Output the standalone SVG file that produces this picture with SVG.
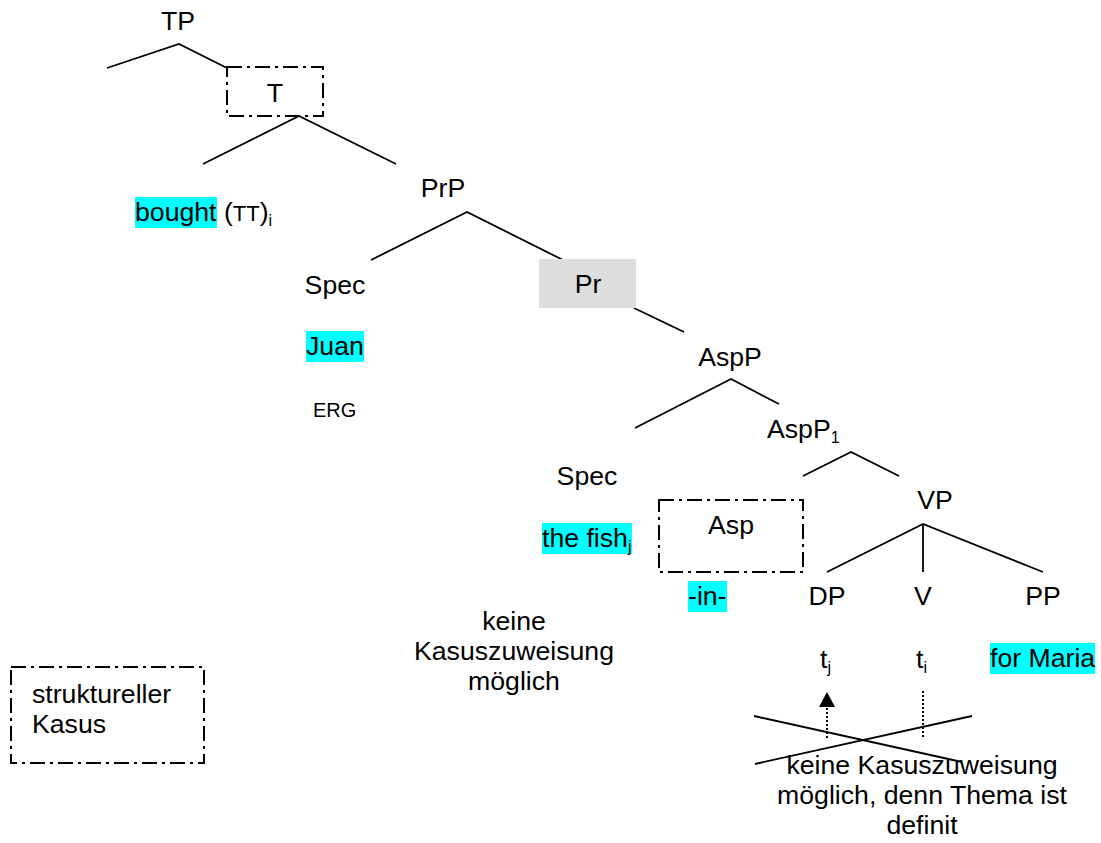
<svg xmlns="http://www.w3.org/2000/svg" width="1101" height="843" viewBox="0 0 1101 843">
<style>
text{font-family:"Liberation Sans",Arial,sans-serif;font-size:26.67px;fill:#000}
.c{text-anchor:middle}
.sm{font-size:20px}
.sub{font-size:16px}
.ln{stroke:#000;stroke-width:1.8;fill:none}
.dd{stroke:#000;stroke-width:2;fill:none;stroke-dasharray:15 5 3 5}
.dot{stroke:#000;stroke-width:2;fill:none;stroke-dasharray:2 2}
.hl{fill:#00FFFF}
</style>
<rect width="1101" height="843" fill="#fff"/>
<g id="connectors">
<polyline class="ln" points="107,68 179,44 227,68"/>
<polyline class="ln" points="203,164 299,116 396,164"/>
<polyline class="ln" points="371,260 467,212 563,260"/>
<line class="ln" x1="634" y1="308" x2="684" y2="332"/>
<polyline class="ln" points="635,428 731,379 779,404"/>
<polyline class="ln" points="803,476 851,452 899,476"/>
<polyline class="ln" points="827,572 923,524 1043,572"/>
<line class="ln" x1="923" y1="524" x2="923" y2="572"/>
<line class="dot" x1="827" y1="738" x2="827" y2="706"/>
<polygon points="827,692 819,707 835,707" fill="#000"/>
<line class="dot" x1="923" y1="691" x2="923" y2="738"/>
<line class="ln" x1="754" y1="716" x2="962" y2="762"/>
<line class="ln" x1="755" y1="764" x2="972" y2="716"/>
</g>
<g id="TP"><text class="c" x="178" y="30">TP</text></g>
<g id="T"><rect class="dd" x="227" y="67" width="96" height="49"/><text class="c" x="275" y="102">T</text></g>
<g id="bought"><rect class="hl" x="135" y="197" width="82" height="31"/><text x="135" y="221">bought <tspan>(</tspan><tspan font-size="22">TT</tspan><tspan>)</tspan><tspan class="sub" dy="5">i</tspan></text></g>
<g id="PrP"><text class="c" x="443" y="197">PrP</text></g>
<g id="Spec1"><text class="c" x="335" y="294">Spec</text></g>
<g id="Pr"><rect x="539" y="259" width="97" height="49" fill="#DDDDDD"/><text class="c" x="588" y="293">Pr</text></g>
<g id="Juan"><rect class="hl" x="306" y="331" width="58" height="31"/><text x="306" y="355">Juan</text></g>
<g id="ERG"><text class="sm" x="313" y="417">ERG</text></g>
<g id="AspP"><text class="c" x="730" y="366">AspP</text></g>
<g id="AspP1"><text x="767" y="438">AspP<tspan class="sub" dy="5">1</tspan></text></g>
<g id="Spec2"><text class="c" x="587" y="485">Spec</text></g>
<g id="Asp"><rect class="dd" x="659" y="500" width="144" height="72"/><text class="c" x="731" y="534">Asp</text></g>
<g id="thefish"><rect class="hl" x="542" y="523" width="90" height="31"/><text x="542" y="547">the fish<tspan class="sub" dy="5">j</tspan></text></g>
<g id="in"><rect class="hl" x="688" y="581" width="39" height="31"/><text x="688" y="605">-in-</text></g>
<g id="VP"><text class="c" x="935" y="509">VP</text></g>
<g id="DP"><text class="c" x="827" y="605">DP</text></g>
<g id="V"><text class="c" x="923" y="605">V</text></g>
<g id="PP"><text class="c" x="1043" y="605">PP</text></g>
<g id="tj"><text x="820" y="668">t<tspan class="sub" dy="5">j</tspan></text></g>
<g id="ti"><text x="916" y="668">t<tspan class="sub" dy="5">i</tspan></text></g>
<g id="forMaria"><rect class="hl" x="990" y="643" width="105" height="31"/><text x="990" y="667">for Maria</text></g>
<g id="keine1"><text class="c" x="514" y="630">keine</text><text class="c" x="514" y="660">Kasuszuweisung</text><text class="c" x="514" y="690">möglich</text></g>
<g id="legend"><rect class="dd" x="11" y="667" width="193" height="96"/><text x="32" y="703">struktureller</text><text x="32" y="733">Kasus</text></g>
<g id="keine2"><text class="c" x="922" y="774">keine Kasuszuweisung</text><text class="c" x="922" y="804">möglich, denn Thema ist</text><text class="c" x="922" y="834">definit</text></g>
</svg>
